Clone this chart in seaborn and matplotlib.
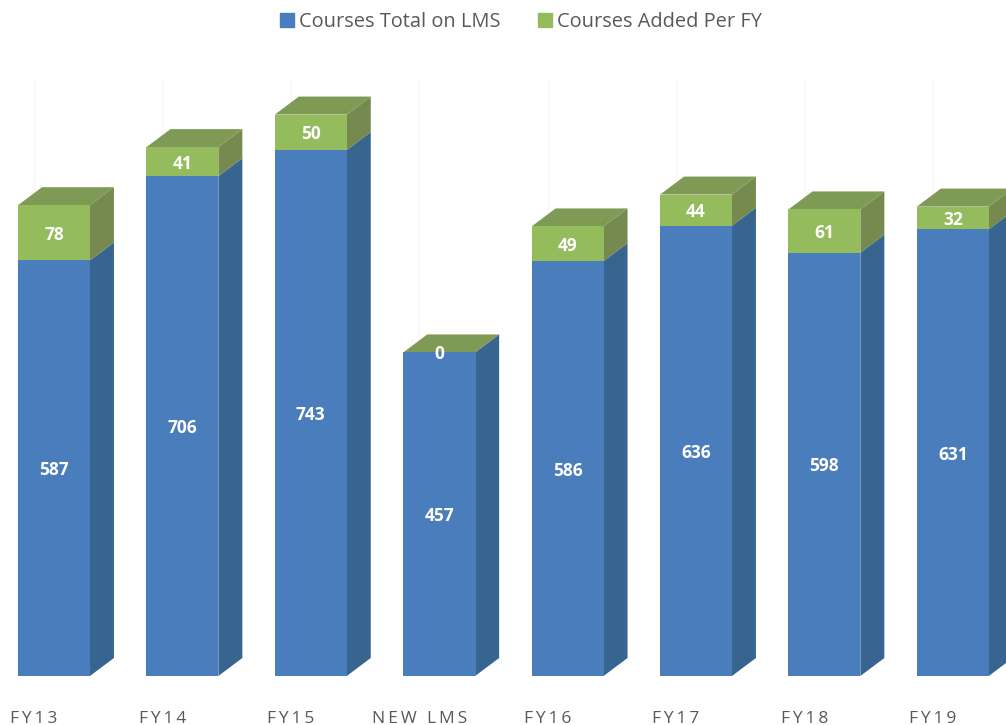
import numpy as np
import pandas as pd
import seaborn as sns
import matplotlib.pyplot as plt
from matplotlib.patches import Patch

sns.set_style('white')
plt.rcParams['font.family'] = ['Open Sans', 'DejaVu Sans']

years = ['FY13', 'FY14', 'FY15', 'NEW LMS', 'FY16', 'FY17', 'FY18', 'FY19']
total_courses = [587, 706, 743, 457, 586, 636, 598, 631]
added_courses = [78, 41, 50, 0, 49, 44, 61, 32]

blue, blue_side = '#4a7dbb', '#38658f'
green, green_side, green_top = '#94bb5c', '#76894f', '#7f9a55'
text_grey = '#595959'

df = pd.DataFrame({'fy': years, 'total': total_courses, 'added': added_courses})

fig = plt.figure(figsize=(10.06, 7.25), dpi=100)
ax = fig.add_axes([0, 49 / 725, 1, 676 / 725])

sns.barplot(data=df, x='fy', y='total', color=blue, saturation=1, width=0.56, linewidth=0, ax=ax, zorder=3)
sns.barplot(data=df, x='fy', y='added', bottom=df['total'], color=green, saturation=1, width=0.56, linewidth=0,
            ax=ax, zorder=3)

ax.set_xlim(-54 / 128.4, (1006 - 54) / 128.4)
ax.set_ylim(0, 676 / 0.708)

# depth of the fake 3d boxes, in data units
dx = 24 / 128.4
dy = 18 / 0.708
half = 0.28
for i, (t, a) in enumerate(zip(total_courses, added_courses)):
    right = i + half
    left = i - half
    top = t + a
    ax.fill([right, right + dx, right + dx, right], [0, dy, t + dy, t], color=blue_side, lw=0, zorder=2)
    ax.fill([right, right + dx, right + dx, right], [t, t + dy, top + dy, top], color=green_side, lw=0, zorder=2)
    ax.fill([left, left + dx, right + dx, right], [top, top + dy, top + dy, top], color=green_top, lw=0, zorder=2)
    ax.text(i, t / 2, str(t), color='white', fontweight='bold', fontsize=12.5, ha='center',
            va='center_baseline', zorder=5)
    ax.text(i, t + a / 2, str(a), color='white', fontweight='bold', fontsize=12.5, ha='center',
            va='center_baseline', zorder=5)

# labels and faint gridlines sit left of the bars
ticks = np.arange(len(years)) - 0.155
ax.vlines(ticks, 0, 842, color='#f6f6f6', lw=1, zorder=0)
ax.set_xticks(ticks)
ax.set_xticklabels(['\u2009'.join(y) for y in years], fontsize=12.5, color=text_grey)
ax.tick_params(axis='x', length=0, pad=25)
ax.set_yticks([])
ax.set_xlabel('')
ax.set_ylabel('')
sns.despine(ax=ax, left=True, bottom=True)

handles = [Patch(color=blue, label='Courses Total on LMS'), Patch(color=green, label='Courses Added Per FY')]
ax.legend(handles=handles, loc='center', bbox_to_anchor=(521 / 1006, 1 - 22 / 676), ncol=2, frameon=False,
          fontsize=14.4, labelcolor=text_grey, handlelength=0.7, handleheight=0.7, handletextpad=0.25,
          columnspacing=1.9)

fig.savefig('out.png', dpi=100)
